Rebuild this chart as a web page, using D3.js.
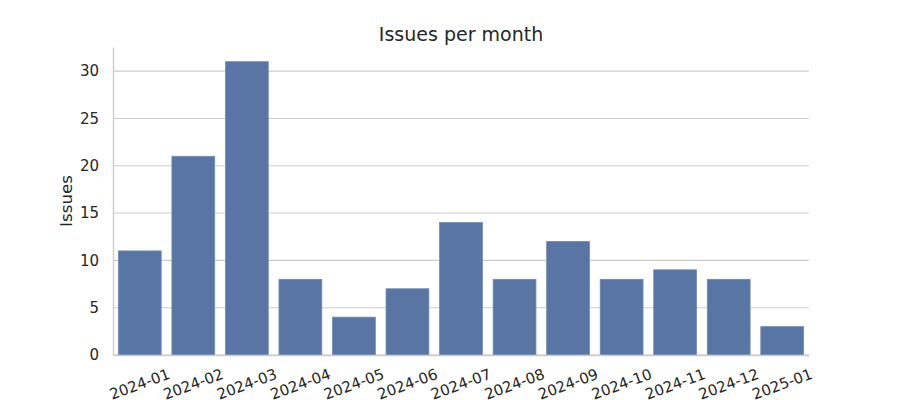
<!DOCTYPE html>
<html lang="en">
  <head>
    <meta charset="UTF-8" />
    <title>Issues per month</title>
    <script src="https://cdn.jsdelivr.net/npm/d3@7/dist/d3.min.js"></script>
    <style>
      body {
        margin: 0;
        padding: 0;
        background: #fff;
      }
      text {
        font-family: 'DejaVu Sans', sans-serif;
        fill: #262626;
      }
    </style>
  </head>

  <body>
    <svg width="900" height="400"></svg>

    <script>
      var months = ['2024-01', '2024-02', '2024-03', '2024-04', '2024-05', '2024-06', '2024-07',
        '2024-08', '2024-09', '2024-10', '2024-11', '2024-12', '2025-01']
      var issues = [11, 21, 31, 8, 4, 7, 14, 8, 12, 8, 9, 8, 3]
      var yTicks = [0, 5, 10, 15, 20, 25, 30]

      var margin = { top: 47, right: 91, bottom: 45, left: 113 }
      var svg = d3.select('svg')
      var width = +svg.attr('width') - margin.left - margin.right
      var height = +svg.attr('height') - margin.top - margin.bottom

      var g = svg.append('g').attr('transform', `translate(${margin.left}, ${margin.top})`)

      var x = d3.scaleBand().domain(months).range([0, width]).paddingInner(0.2).paddingOuter(0.1)
      var y = d3.scaleLinear().domain([0, d3.max(issues) * 1.05]).range([height, 0])

      // grid
      g.append('g')
        .selectAll('line')
        .data(yTicks)
        .enter()
        .append('line')
        .attr('x1', 0)
        .attr('x2', width)
        .attr('y1', (d) => y(d))
        .attr('y2', (d) => y(d))
        .attr('stroke', '#cccccc')
        .attr('stroke-width', 1.1)

      // bars
      g.selectAll('.bar')
        .data(issues)
        .enter()
        .append('rect')
        .attr('class', 'bar')
        .attr('x', (d, i) => x(months[i]))
        .attr('y', (d) => y(d))
        .attr('width', x.bandwidth())
        .attr('height', (d) => height - y(d))
        .attr('fill', '#5975a4')
        .attr('stroke', '#7389b3')
        .attr('stroke-width', 0.8)

      // y axis
      var yAxis = d3.axisLeft(y).tickValues(yTicks).tickSize(0).tickPadding(14)
      var ya = g.append('g').call(yAxis)
      ya.select('.domain').attr('stroke', '#cccccc').attr('stroke-width', 1.4)
      ya.selectAll('text').style('font-size', '15px').attr('fill', '#262626')

      // x axis
      var xAxis = d3.axisBottom(x).tickSize(0).tickFormat('')
      var xa = g.append('g').attr('transform', `translate(0, ${height})`).call(xAxis)
      xa.select('.domain').attr('stroke', '#cccccc').attr('stroke-width', 1.4)

      g.append('g')
        .selectAll('text')
        .data(months)
        .enter()
        .append('text')
        .attr('transform', (d) => `translate(${x(d) + x.bandwidth() / 2}, ${height + 29}) rotate(-20)`)
        .attr('text-anchor', 'middle')
        .attr('dy', '0.35em')
        .style('font-size', '15px')
        .text((d) => d)

      // y label
      svg.append('text')
        .attr('transform', `translate(72, ${margin.top + height / 2}) rotate(-90)`)
        .attr('text-anchor', 'middle')
        .style('font-size', '16.7px')
        .text('Issues')

      // title
      svg.append('text')
        .attr('x', margin.left + width / 2)
        .attr('y', 41)
        .attr('text-anchor', 'middle')
        .style('font-size', '19px')
        .text('Issues per month')
    </script>
  </body>
</html>
